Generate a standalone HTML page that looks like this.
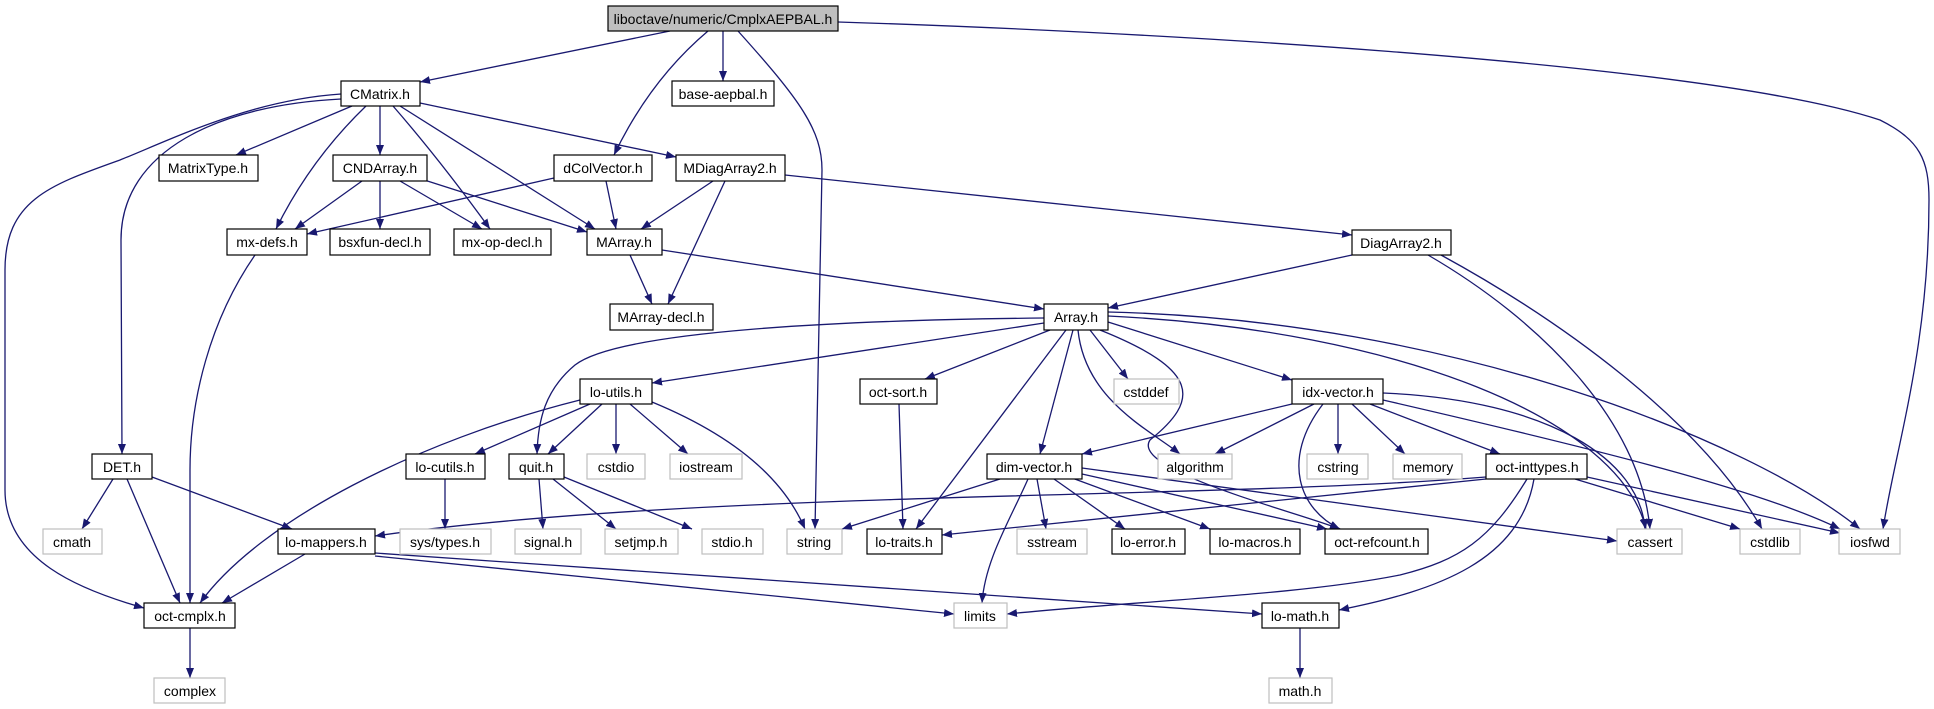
<!DOCTYPE html>
<html><head><meta charset="utf-8"><style>
html,body{margin:0;padding:0;background:#fff;}
svg{display:block;}
text{font-family:"Liberation Sans",Arial,sans-serif;font-size:14px;fill:#000;text-anchor:middle;}
.e{fill:none;stroke:#191970;stroke-width:1.3;}
.n{fill:#fff;stroke:#000;stroke-width:1.2;}
.g{fill:#fff;stroke:#bfbfbf;stroke-width:1.2;}
</style></head><body>
<svg width="1934" height="709" viewBox="0 0 1934 709" xmlns="http://www.w3.org/2000/svg">
<defs><marker id="a" viewBox="0 0 10 8" refX="10" refY="4" markerWidth="10" markerHeight="8" markerUnits="userSpaceOnUse" orient="auto"><path d="M0,0 L10,4 L0,8 z" fill="#191970"/></marker></defs>
<g class="e" marker-end="url(#a)">
<path d="M670,31 L420,82"/>
<path d="M708,31 Q650,80 614,155"/>
<path d="M723,31 L723,81"/>
<path d="M738,31 C800,100 822,130 822,170 L815,529"/>
<path d="M838,22 C1100,30 1700,60 1880,120 C1920,140 1929,160 1929,200 C1929,350 1895,450 1883,529"/>
<path d="M352,106 L236,155"/>
<path d="M380,106 L380,155"/>
<path d="M366,106 Q310,160 276,229"/>
<path d="M393,106 Q440,160 490,229"/>
<path d="M400,106 L595,229"/>
<path d="M420,103 L676,157"/>
<path d="M341,99 C220,105 121,150 121,240 L122,454"/>
<path d="M341,94 C250,100 170,140 120,160 C50,185 5,200 5,270 L5,490 C5,560 80,590 144,608"/>
<path d="M362,181 L295,229"/>
<path d="M380,181 L380,229"/>
<path d="M400,181 L482,229"/>
<path d="M418,178 L587,232"/>
<path d="M554,178 L307,234"/>
<path d="M606,181 L616,229"/>
<path d="M713,181 L641,229"/>
<path d="M725,181 L668,304"/>
<path d="M785,175 L1352,235"/>
<path d="M630,255 L652,304"/>
<path d="M662,250 L1044,309"/>
<path d="M1352,255 L1108,308"/>
<path d="M1428,255 C1540,320 1640,420 1650,529"/>
<path d="M1441,255 C1560,320 1700,420 1762,529"/>
<path d="M255,255 C210,320 190,400 190,470 L190,603"/>
<path d="M1044,323 L652,383"/>
<path d="M1044,318 C850,320 620,330 575,365 C545,390 538,420 537,454"/>
<path d="M1050,330 L925,379"/>
<path d="M1066,330 L916,529"/>
<path d="M1073,330 L1040,454"/>
<path d="M1078,330 C1085,400 1150,430 1180,454"/>
<path d="M1090,330 L1128,379"/>
<path d="M1100,330 C1200,370 1200,400 1150,440 C1130,470 1290,510 1340,529"/>
<path d="M1108,322 L1292,380"/>
<path d="M1108,316 C1400,330 1620,420 1646,529"/>
<path d="M1108,312 C1450,320 1750,440 1860,529"/>
<path d="M580,400 C420,440 260,520 200,603"/>
<path d="M590,404 L475,454"/>
<path d="M602,404 L548,454"/>
<path d="M616,404 L616,454"/>
<path d="M630,404 L688,454"/>
<path d="M652,402 C720,430 780,470 805,529"/>
<path d="M445,479 L445,529"/>
<path d="M539,479 L543,529"/>
<path d="M553,479 L616,529"/>
<path d="M564,477 L692,529"/>
<path d="M899,404 L903,529"/>
<path d="M113,479 L82,529"/>
<path d="M127,479 L180,603"/>
<path d="M152,477 L292,529"/>
<path d="M305,554 L222,603"/>
<path d="M375,556 L954,614"/>
<path d="M375,553 L1262,614"/>
<path d="M1000,479 L842,529"/>
<path d="M1028,479 C1010,520 985,560 982,603"/>
<path d="M1037,479 L1046,529"/>
<path d="M1054,479 L1125,529"/>
<path d="M1072,478 L1210,529"/>
<path d="M1082,474 L1327,529"/>
<path d="M1082,468 L1617,541"/>
<path d="M1292,404 L1082,454"/>
<path d="M1314,404 L1215,454"/>
<path d="M1338,404 L1338,454"/>
<path d="M1352,404 L1405,454"/>
<path d="M1370,404 L1500,454"/>
<path d="M1323,404 C1280,460 1300,510 1340,529"/>
<path d="M1383,393 C1550,400 1640,460 1645,529"/>
<path d="M1383,400 C1600,450 1760,490 1840,529"/>
<path d="M1486,477 C1200,500 700,490 375,536"/>
<path d="M1486,479 L942,535"/>
<path d="M1527,479 C1490,540 1460,560 1400,575 C1300,595 1150,600 1007,614"/>
<path d="M1534,479 C1520,560 1440,590 1339,610"/>
<path d="M1575,479 L1740,529"/>
<path d="M1587,477 L1840,533"/>
<path d="M1300,628 L1300,678"/>
<path d="M190,628 L190,678"/>
</g>
<rect x="608" y="6" width="230" height="25" fill="#bfbfbf" stroke="#000" stroke-width="1.2"/><text x="723" y="24">liboctave/numeric/CmplxAEPBAL.h</text>
<rect class="n" x="341" y="81" width="79" height="25"/><text x="380" y="99">CMatrix.h</text>
<rect class="n" x="672" y="81" width="102" height="25"/><text x="723" y="99">base-aepbal.h</text>
<rect class="n" x="159" y="155" width="99" height="26"/><text x="208" y="173">MatrixType.h</text>
<rect class="n" x="333" y="155" width="94" height="26"/><text x="380" y="173">CNDArray.h</text>
<rect class="n" x="554" y="155" width="98" height="26"/><text x="603" y="173">dColVector.h</text>
<rect class="n" x="676" y="155" width="109" height="26"/><text x="730" y="173">MDiagArray2.h</text>
<rect class="n" x="227" y="229" width="80" height="26"/><text x="267" y="247">mx-defs.h</text>
<rect class="n" x="330" y="229" width="100" height="26"/><text x="380" y="247">bsxfun-decl.h</text>
<rect class="n" x="454" y="229" width="97" height="26"/><text x="502" y="247">mx-op-decl.h</text>
<rect class="n" x="587" y="229" width="75" height="26"/><text x="624" y="247">MArray.h</text>
<rect class="n" x="1352" y="230" width="99" height="25"/><text x="1401" y="248">DiagArray2.h</text>
<rect class="n" x="610" y="304" width="103" height="26"/><text x="661" y="322">MArray-decl.h</text>
<rect class="n" x="1044" y="304" width="64" height="26"/><text x="1076" y="322">Array.h</text>
<rect class="n" x="580" y="379" width="72" height="25"/><text x="616" y="397">lo-utils.h</text>
<rect class="n" x="860" y="379" width="77" height="25"/><text x="898" y="397">oct-sort.h</text>
<rect class="g" x="1114" y="379" width="65" height="25"/><text x="1146" y="397">cstddef</text>
<rect class="n" x="1292" y="379" width="91" height="25"/><text x="1338" y="397">idx-vector.h</text>
<rect class="n" x="92" y="454" width="60" height="25"/><text x="122" y="472">DET.h</text>
<rect class="n" x="406" y="454" width="79" height="25"/><text x="445" y="472">lo-cutils.h</text>
<rect class="n" x="509" y="454" width="55" height="25"/><text x="536" y="472">quit.h</text>
<rect class="g" x="587" y="454" width="58" height="25"/><text x="616" y="472">cstdio</text>
<rect class="g" x="670" y="454" width="72" height="25"/><text x="706" y="472">iostream</text>
<rect class="n" x="987" y="454" width="95" height="25"/><text x="1034" y="472">dim-vector.h</text>
<rect class="g" x="1158" y="454" width="74" height="25"/><text x="1195" y="472">algorithm</text>
<rect class="g" x="1307" y="454" width="61" height="25"/><text x="1338" y="472">cstring</text>
<rect class="g" x="1393" y="454" width="69" height="25"/><text x="1428" y="472">memory</text>
<rect class="n" x="1486" y="454" width="101" height="25"/><text x="1537" y="472">oct-inttypes.h</text>
<rect class="g" x="43" y="529" width="59" height="25"/><text x="72" y="547">cmath</text>
<rect class="n" x="278" y="529" width="97" height="25"/><text x="326" y="547">lo-mappers.h</text>
<rect class="g" x="400" y="529" width="91" height="25"/><text x="445" y="547">sys/types.h</text>
<rect class="g" x="515" y="529" width="66" height="25"/><text x="548" y="547">signal.h</text>
<rect class="g" x="605" y="529" width="73" height="25"/><text x="641" y="547">setjmp.h</text>
<rect class="g" x="702" y="529" width="61" height="25"/><text x="732" y="547">stdio.h</text>
<rect class="g" x="787" y="529" width="55" height="25"/><text x="814" y="547">string</text>
<rect class="n" x="867" y="529" width="75" height="25"/><text x="904" y="547">lo-traits.h</text>
<rect class="g" x="1017" y="529" width="70" height="25"/><text x="1052" y="547">sstream</text>
<rect class="n" x="1112" y="529" width="73" height="25"/><text x="1148" y="547">lo-error.h</text>
<rect class="n" x="1210" y="529" width="90" height="25"/><text x="1255" y="547">lo-macros.h</text>
<rect class="n" x="1325" y="529" width="103" height="25"/><text x="1377" y="547">oct-refcount.h</text>
<rect class="g" x="1617" y="529" width="65" height="25"/><text x="1650" y="547">cassert</text>
<rect class="g" x="1740" y="529" width="60" height="25"/><text x="1770" y="547">cstdlib</text>
<rect class="g" x="1839" y="529" width="61" height="25"/><text x="1870" y="547">iosfwd</text>
<rect class="n" x="144" y="603" width="91" height="25"/><text x="190" y="621">oct-cmplx.h</text>
<rect class="g" x="954" y="603" width="53" height="25"/><text x="980" y="621">limits</text>
<rect class="n" x="1262" y="603" width="77" height="25"/><text x="1300" y="621">lo-math.h</text>
<rect class="g" x="154" y="678" width="71" height="25"/><text x="190" y="696">complex</text>
<rect class="g" x="1269" y="678" width="63" height="25"/><text x="1300" y="696">math.h</text>
</svg>
</body></html>
